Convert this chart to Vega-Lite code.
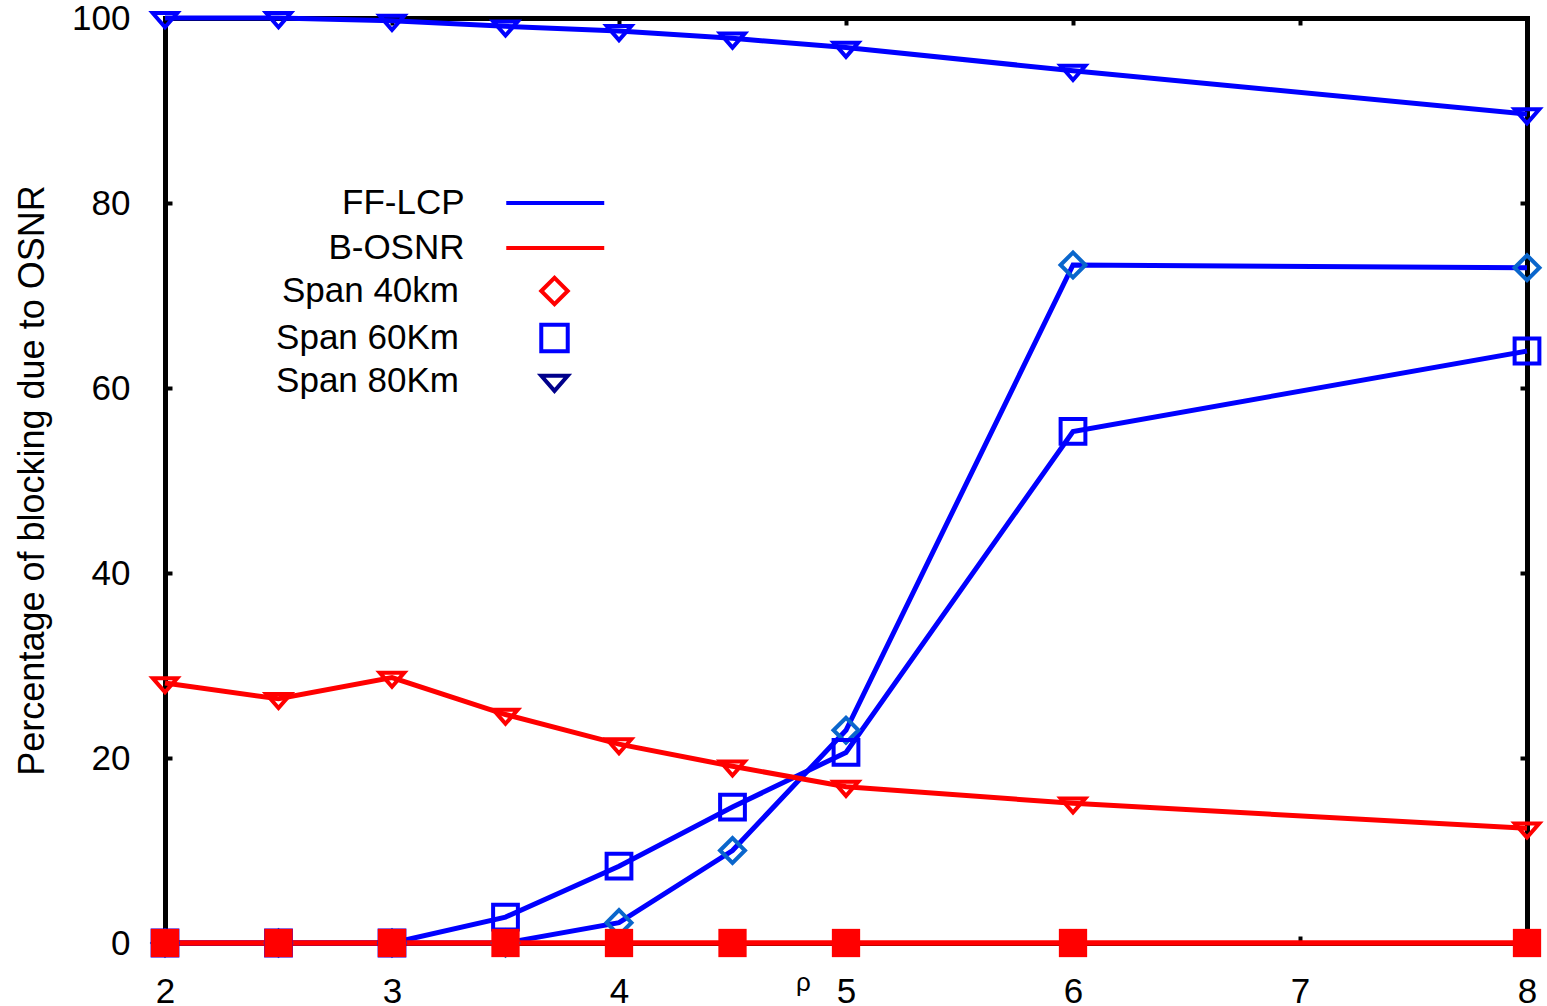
{
  "$schema": "https://vega.github.io/schema/vega-lite/v6.json",
  "width": 1362,
  "height": 925,
  "autosize": {"type": "none"},
  "padding": {"left": 165, "top": 18, "right": 20, "bottom": 63},
  "background": "white",
  "config": {
    "view": {"stroke": null},
    "font": "Liberation Sans",
    "axis": {"grid": false, "domainColor": "black", "domainWidth": 5, "domainCap": "square", "tickColor": "black", "tickWidth": 4, "tickSize": -7, "labelColor": "black", "labelFont": "Liberation Sans", "labelFontSize": 35, "labelFlush": false, "labelOverlap": false, "titleFont": "Liberation Sans", "titleFontWeight": "normal", "titleColor": "black", "zindex": 1},
    "legend": {"labelFont": "Liberation Sans", "labelFontSize": 35, "labelColor": "black", "padding": 0, "labelLimit": 500}
  },
  "data": {
    "values": [
      {"x": 2, "value": 0, "method": "FF-LCP", "span": "Span 40km", "series": "FF-LCP 40km"},
      {"x": 2.5, "value": 0, "method": "FF-LCP", "span": "Span 40km", "series": "FF-LCP 40km"},
      {"x": 3, "value": 0, "method": "FF-LCP", "span": "Span 40km", "series": "FF-LCP 40km"},
      {"x": 3.5, "value": 0, "method": "FF-LCP", "span": "Span 40km", "series": "FF-LCP 40km"},
      {"x": 4, "value": 2.2, "method": "FF-LCP", "span": "Span 40km", "series": "FF-LCP 40km"},
      {"x": 4.5, "value": 10.0, "method": "FF-LCP", "span": "Span 40km", "series": "FF-LCP 40km"},
      {"x": 5, "value": 23.0, "method": "FF-LCP", "span": "Span 40km", "series": "FF-LCP 40km"},
      {"x": 6, "value": 73.3, "method": "FF-LCP", "span": "Span 40km", "series": "FF-LCP 40km"},
      {"x": 8, "value": 73.0, "method": "FF-LCP", "span": "Span 40km", "series": "FF-LCP 40km"},
      {"x": 2, "value": 0, "method": "FF-LCP", "span": "Span 60Km", "series": "FF-LCP 60km"},
      {"x": 2.5, "value": 0, "method": "FF-LCP", "span": "Span 60Km", "series": "FF-LCP 60km"},
      {"x": 3, "value": 0, "method": "FF-LCP", "span": "Span 60Km", "series": "FF-LCP 60km"},
      {"x": 3.5, "value": 2.8, "method": "FF-LCP", "span": "Span 60Km", "series": "FF-LCP 60km"},
      {"x": 4, "value": 8.3, "method": "FF-LCP", "span": "Span 60Km", "series": "FF-LCP 60km"},
      {"x": 4.5, "value": 14.7, "method": "FF-LCP", "span": "Span 60Km", "series": "FF-LCP 60km"},
      {"x": 5, "value": 20.6, "method": "FF-LCP", "span": "Span 60Km", "series": "FF-LCP 60km"},
      {"x": 6, "value": 55.3, "method": "FF-LCP", "span": "Span 60Km", "series": "FF-LCP 60km"},
      {"x": 8, "value": 64.0, "method": "FF-LCP", "span": "Span 60Km", "series": "FF-LCP 60km"},
      {"x": 2, "value": 100, "method": "FF-LCP", "span": "Span 80Km", "series": "FF-LCP 80km"},
      {"x": 2.5, "value": 100, "method": "FF-LCP", "span": "Span 80Km", "series": "FF-LCP 80km"},
      {"x": 3, "value": 99.7, "method": "FF-LCP", "span": "Span 80Km", "series": "FF-LCP 80km"},
      {"x": 3.5, "value": 99.1, "method": "FF-LCP", "span": "Span 80Km", "series": "FF-LCP 80km"},
      {"x": 4, "value": 98.6, "method": "FF-LCP", "span": "Span 80Km", "series": "FF-LCP 80km"},
      {"x": 4.5, "value": 97.8, "method": "FF-LCP", "span": "Span 80Km", "series": "FF-LCP 80km"},
      {"x": 5, "value": 96.8, "method": "FF-LCP", "span": "Span 80Km", "series": "FF-LCP 80km"},
      {"x": 6, "value": 94.3, "method": "FF-LCP", "span": "Span 80Km", "series": "FF-LCP 80km"},
      {"x": 8, "value": 89.6, "method": "FF-LCP", "span": "Span 80Km", "series": "FF-LCP 80km"},
      {"x": 2, "value": 28.1, "method": "B-OSNR", "span": "Span 80Km", "series": "B-OSNR 80km"},
      {"x": 2.5, "value": 26.4, "method": "B-OSNR", "span": "Span 80Km", "series": "B-OSNR 80km"},
      {"x": 3, "value": 28.7, "method": "B-OSNR", "span": "Span 80Km", "series": "B-OSNR 80km"},
      {"x": 3.5, "value": 24.7, "method": "B-OSNR", "span": "Span 80Km", "series": "B-OSNR 80km"},
      {"x": 4, "value": 21.5, "method": "B-OSNR", "span": "Span 80Km", "series": "B-OSNR 80km"},
      {"x": 4.5, "value": 19.1, "method": "B-OSNR", "span": "Span 80Km", "series": "B-OSNR 80km"},
      {"x": 5, "value": 16.9, "method": "B-OSNR", "span": "Span 80Km", "series": "B-OSNR 80km"},
      {"x": 6, "value": 15.1, "method": "B-OSNR", "span": "Span 80Km", "series": "B-OSNR 80km"},
      {"x": 8, "value": 12.4, "method": "B-OSNR", "span": "Span 80Km", "series": "B-OSNR 80km"},
      {"x": 2, "value": 0, "method": "B-OSNR", "span": "Span 40km", "series": "B-OSNR 40km"},
      {"x": 2.5, "value": 0, "method": "B-OSNR", "span": "Span 40km", "series": "B-OSNR 40km"},
      {"x": 3, "value": 0, "method": "B-OSNR", "span": "Span 40km", "series": "B-OSNR 40km"},
      {"x": 3.5, "value": 0, "method": "B-OSNR", "span": "Span 40km", "series": "B-OSNR 40km"},
      {"x": 4, "value": 0, "method": "B-OSNR", "span": "Span 40km", "series": "B-OSNR 40km"},
      {"x": 4.5, "value": 0, "method": "B-OSNR", "span": "Span 40km", "series": "B-OSNR 40km"},
      {"x": 5, "value": 0, "method": "B-OSNR", "span": "Span 40km", "series": "B-OSNR 40km"},
      {"x": 6, "value": 0, "method": "B-OSNR", "span": "Span 40km", "series": "B-OSNR 40km"},
      {"x": 8, "value": 0, "method": "B-OSNR", "span": "Span 40km", "series": "B-OSNR 40km"},
      {"x": 2, "value": 0, "method": "B-OSNR", "span": "Span 60Km", "series": "B-OSNR 60km"},
      {"x": 2.5, "value": 0, "method": "B-OSNR", "span": "Span 60Km", "series": "B-OSNR 60km"},
      {"x": 3, "value": 0, "method": "B-OSNR", "span": "Span 60Km", "series": "B-OSNR 60km"},
      {"x": 3.5, "value": 0, "method": "B-OSNR", "span": "Span 60Km", "series": "B-OSNR 60km"},
      {"x": 4, "value": 0, "method": "B-OSNR", "span": "Span 60Km", "series": "B-OSNR 60km"},
      {"x": 4.5, "value": 0, "method": "B-OSNR", "span": "Span 60Km", "series": "B-OSNR 60km"},
      {"x": 5, "value": 0, "method": "B-OSNR", "span": "Span 60Km", "series": "B-OSNR 60km"},
      {"x": 6, "value": 0, "method": "B-OSNR", "span": "Span 60Km", "series": "B-OSNR 60km"},
      {"x": 8, "value": 0, "method": "B-OSNR", "span": "Span 60Km", "series": "B-OSNR 60km"}
    ]
  },
  "layer": [
    {
      "mark": {"type": "line", "strokeWidth": 5, "clip": false},
      "encoding": {
        "x": {"field": "x", "type": "quantitative", "scale": {"domain": [2, 8], "nice": false, "zero": false},
          "axis": {"orient": "bottom", "values": [2, 3, 4, 5, 6, 7, 8], "labelPadding": 38, "labelBaseline": "top", "title": "ρ", "titleFontSize": 26, "titleX": 638, "titleY": 47, "titleBaseline": "alphabetic", "titleAlign": "center"}},
        "y": {"field": "value", "type": "quantitative", "scale": {"domain": [0, 100], "nice": false},
          "axis": {"orient": "left", "values": [0, 20, 40, 60, 80, 100], "labelPadding": 42, "title": "Percentage of blocking due to OSNR", "titleFontSize": 36, "titleAngle": 270, "titleX": -122, "titleY": 462, "titleAlign": "center", "titleBaseline": "alphabetic"}},
        "color": {"field": "method", "type": "nominal",
          "scale": {"domain": ["FF-LCP", "B-OSNR"], "range": ["#0000ff", "#ff0000"]},
          "legend": {"title": null, "orient": "none", "legendX": 372.75, "legendY": 167.5, "symbolType": "M-4,0L4,0", "symbolSize": 600, "symbolStrokeWidth": 4, "labelAlign": "right", "labelOffset": -108.25, "rowPadding": 9}},
        "detail": {"field": "series", "type": "nominal"}
      }
    },
    {
      "transform": [{"filter": "datum.series !== 'B-OSNR 40km' && datum.series !== 'B-OSNR 60km'"}],
      "mark": {"type": "point", "filled": false, "strokeWidth": 4, "clip": false, "opacity": 1},
      "encoding": {
        "x": {"field": "x", "type": "quantitative", "axis": {"orient": "top", "values": [2, 3, 4, 5, 6, 7, 8], "labels": false, "title": null}},
        "y": {"field": "value", "type": "quantitative", "axis": {"orient": "right", "values": [0, 20, 40, 60, 80, 100], "labels": false, "title": null}},
        "shape": {"field": "span", "type": "nominal",
          "scale": {"domain": ["Span 40km", "Span 60Km", "Span 80Km"], "range": ["diamond", "square", "M-1,-0.4L1,-0.4L0,0.75Z"]},
          "legend": {"title": null, "orient": "none", "legendX": 372, "legendY": 255.5, "symbolSize": 700, "symbolStrokeWidth": 4, "symbolFillColor": "transparent",
            "symbolStrokeColor": {"expr": "datum.value === 'Span 40km' ? '#ff0000' : datum.value === 'Span 60Km' ? '#0000ff' : '#00008b'"},
            "labelAlign": "right", "labelOffset": -113, "rowPadding": 4,
            "encode": {"symbols": {"update": {"stroke": {"signal": "datum.value === 'Span 40km' ? '#ff0000' : datum.value === 'Span 60Km' ? '#0000ff' : '#00008b'"}, "strokeWidth": {"value": 4}}}}}},
        "size": {"field": "series", "type": "nominal", "scale": {"domain": ["FF-LCP 40km", "FF-LCP 60km", "FF-LCP 80km", "B-OSNR 80km"], "range": [620, 600, 1400, 1400]}, "legend": null},
        "stroke": {"field": "series", "type": "nominal",
          "scale": {"domain": ["FF-LCP 40km", "FF-LCP 60km", "FF-LCP 80km", "B-OSNR 80km"], "range": ["#0a66cc", "#0000ff", "#0000ff", "#ff0000"]},
          "legend": null}
      }
    },
    {
      "transform": [{"filter": "datum.series === 'B-OSNR 60km'"}],
      "mark": {"type": "point", "shape": "square", "filled": true, "color": "#ff0000", "size": 800, "opacity": 1, "clip": false},
      "encoding": {
        "x": {"field": "x", "type": "quantitative", "axis": null},
        "y": {"field": "value", "type": "quantitative", "axis": null}
      }
    }
  ]
}
